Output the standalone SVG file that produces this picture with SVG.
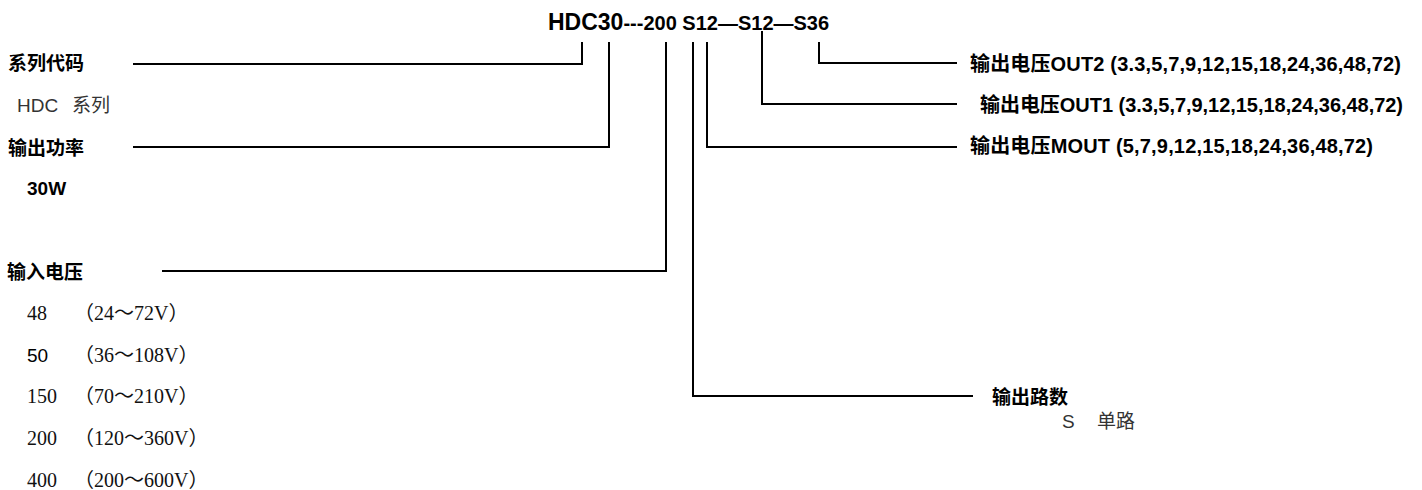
<svg xmlns="http://www.w3.org/2000/svg" width="1422" height="490" viewBox="0 0 1422 490">
<style>
.b{font-family:"Liberation Sans","Noto Sans CJK SC",sans-serif;font-weight:bold;font-size:19px;fill:#000}
.rb{font-family:"Liberation Sans","Noto Sans CJK SC",sans-serif;font-weight:bold;font-size:20px;fill:#000}
.r{font-family:"Liberation Sans","Noto Sans CJK SC",sans-serif;font-size:19px;fill:#333}
.s{font-family:"Liberation Serif","Noto Sans CJK SC",serif;font-size:20px;fill:#111}
.c{fill:none;stroke:#000;stroke-width:2}
</style>
<rect width="1422" height="490" fill="#fff"/>
<g id="title">
<text x="548" y="30" class="b"><tspan font-size="23">HDC30</tspan><tspan font-size="20">---200 S12—S12—S36</tspan></text>
</g>
<g id="series">
<text x="8" y="70" class="b">系列代码</text>
<text x="17" y="112" class="r">HDC</text>
<text x="72" y="112" class="r">系列</text>
</g>
<g id="power">
<text x="8" y="155" class="b">输出功率</text>
<text x="27" y="195" class="b">30W</text>
</g>
<g id="input">
<text x="7" y="279" class="b">输入电压</text>
<text x="27" y="320" class="s">48</text>
<text x="74" y="320" class="s">（24～72V）</text>
<text x="27" y="362" class="r" style="fill:#000">50</text>
<text x="74" y="362" class="s">（36～108V）</text>
<text x="27" y="403" class="s">150</text>
<text x="74" y="403" class="s">（70～210V）</text>
<text x="27" y="445" class="s">200</text>
<text x="74" y="445" class="s">（120～360V）</text>
<text x="27" y="487" class="s">400</text>
<text x="74" y="487" class="s">（200～600V）</text>
</g>
<g id="out2">
<text x="970" y="71" class="rb" textLength="431">输出电压OUT2 (3.3,5,7,9,12,15,18,24,36,48,72)</text>
</g>
<g id="out1">
<text x="980" y="112" class="rb" textLength="423">输出电压OUT1 (3.3,5,7,9,12,15,18,24,36,48,72)</text>
</g>
<g id="mout">
<text x="970" y="153" class="rb" textLength="403">输出电压MOUT (5,7,9,12,15,18,24,36,48,72)</text>
</g>
<g id="channels">
<text x="992" y="404" class="b">输出路数</text>
<text x="1062" y="428" class="r">S</text>
<text x="1097" y="428" class="r">单路</text>
</g>
<g id="connectors">
<path class="c" d="M133,64 H582 V42"/>
<path class="c" d="M133,147 H609 V42"/>
<path class="c" d="M162,271 H666 V42"/>
<path class="c" d="M693,42 V396 H973"/>
<path class="c" d="M707,42 V147 H957"/>
<path class="c" d="M762,31 V104 H957"/>
<path class="c" d="M819,42 V63 H957"/>
</g>
</svg>
